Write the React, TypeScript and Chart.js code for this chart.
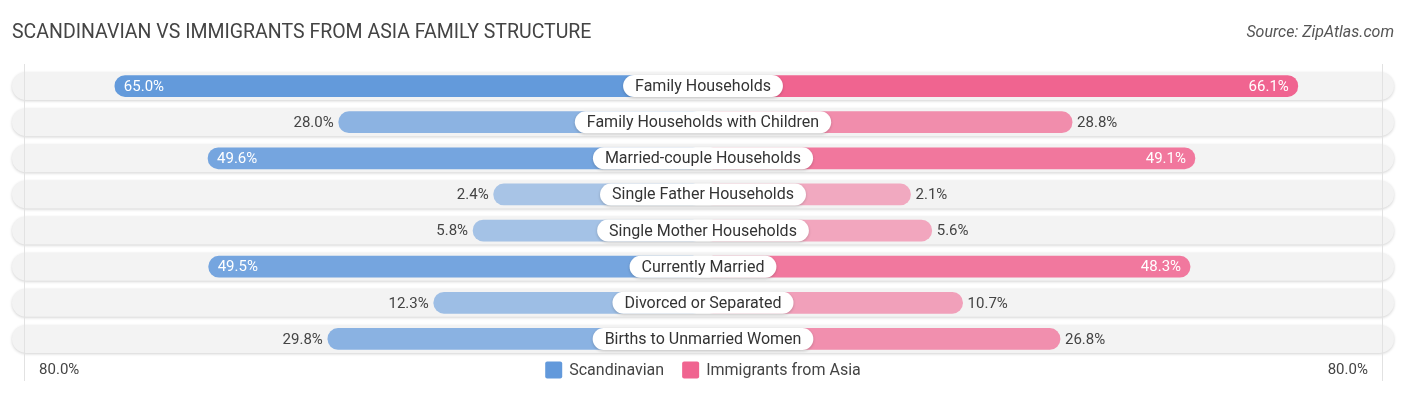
import React, { useEffect, useRef } from "react";
import { Chart, registerables } from "chart.js";

Chart.register(...registerables);

const categories = [
  "Family Households",
  "Family Households with Children",
  "Married-couple Households",
  "Single Father Households",
  "Single Mother Households",
  "Currently Married",
  "Divorced or Separated",
  "Births to Unmarried Women",
];
const scandinavian = [65.0, 28.0, 49.6, 2.4, 5.8, 49.5, 12.3, 29.8];
const immigrantsAsia = [66.1, 28.8, 49.1, 2.1, 5.6, 48.3, 10.7, 26.8];
const seriesNames = ["Scandinavian", "Immigrants from Asia"];
const axisMaxLabel = "80.0%";
const titleText = "SCANDINAVIAN VS IMMIGRANTS FROM ASIA FAMILY STRUCTURE";
const sourceText = "Source: ZipAtlas.com";

const AXIS_MAX = 80;
const OFFSET = 32.2; // room reserved under the centre label
const EDGE = AXIS_MAX + OFFSET + 2;
const FONT = "Roboto, 'Noto Sans', sans-serif";

const BLUE = [98, 153, 219];
const PINK = [240, 100, 144];

function colorFor(rgb: number[], v: number) {
  const a = 0.5 + 0.5 * Math.min(1, v / 66);
  return `rgba(${rgb[0]},${rgb[1]},${rgb[2]},${a.toFixed(3)})`;
}

function roundRect(ctx: CanvasRenderingContext2D, x: number, y: number, w: number, h: number, r: number) {
  ctx.beginPath();
  ctx.moveTo(x + r, y);
  ctx.lineTo(x + w - r, y);
  ctx.arc(x + w - r, y + r, r, -Math.PI / 2, 0, false);
  ctx.lineTo(x + w, y + h - r);
  ctx.arc(x + w - r, y + h - r, r, 0, Math.PI / 2, false);
  ctx.lineTo(x + r, y + h);
  ctx.arc(x + r, y + h - r, r, Math.PI / 2, Math.PI, false);
  ctx.lineTo(x, y + r);
  ctx.arc(x + r, y + r, r, Math.PI, Math.PI * 1.5, false);
  ctx.closePath();
}

const decorPlugin = {
  id: "decor",
  beforeDatasetsDraw(chart: any) {
    const ctx = chart.ctx as CanvasRenderingContext2D;
    const xs = chart.scales.x;
    const ys = chart.scales.y;
    const left = xs.getPixelForValue(-EDGE);
    const right = xs.getPixelForValue(EDGE);
    // pills
    categories.forEach((_, i) => {
      const cy = ys.getPixelForValue(i);
      const h = 28;
      ctx.save();
      ctx.shadowColor = "rgba(0,0,0,0.18)";
      ctx.shadowBlur = 3;
      ctx.shadowOffsetY = 1;
      roundRect(ctx, left, cy - h / 2, right - left, h, h / 2);
      ctx.fillStyle = "#f3f3f3";
      ctx.fill();
      ctx.restore();
    });
    // faint vertical guide lines at 80%
    ctx.save();
    ctx.strokeStyle = "#e2e2e2";
    ctx.lineWidth = 1;
    for (const v of [-(AXIS_MAX + OFFSET), AXIS_MAX + OFFSET]) {
      const px = Math.round(xs.getPixelForValue(v)) + 0.5;
      ctx.beginPath();
      ctx.moveTo(px, chart.chartArea.top - 4);
      ctx.lineTo(px, chart.chartArea.bottom + 24);
      ctx.stroke();
    }
    ctx.restore();
  },
  afterDatasetsDraw(chart: any) {
    const ctx = chart.ctx as CanvasRenderingContext2D;
    const xs = chart.scales.x;
    const ys = chart.scales.y;
    const cx = xs.getPixelForValue(0);
    categories.forEach((cat, i) => {
      const cy = ys.getPixelForValue(i);
      // centre label
      ctx.save();
      ctx.font = `16px ${FONT}`;
      const tw = ctx.measureText(cat).width;
      const bw = tw + 24;
      const bh = 22;
      ctx.shadowColor = "rgba(0,0,0,0.2)";
      ctx.shadowBlur = 3;
      ctx.shadowOffsetY = 1;
      roundRect(ctx, cx - bw / 2, cy - bh / 2, bw, bh, bh / 2);
      ctx.fillStyle = "#ffffff";
      ctx.fill();
      ctx.restore();
      ctx.save();
      ctx.font = `16px ${FONT}`;
      ctx.fillStyle = "#333333";
      ctx.textAlign = "center";
      ctx.textBaseline = "middle";
      ctx.fillText(cat, cx, cy + 1);
      ctx.restore();

      // value labels
      ctx.save();
      ctx.font = `15px ${FONT}`;
      ctx.textBaseline = "middle";
      const lv = scandinavian[i];
      const lx = xs.getPixelForValue(-(OFFSET + lv));
      if (lv > 40) {
        ctx.fillStyle = "#ffffff";
        ctx.textAlign = "left";
        ctx.fillText(lv.toFixed(1) + "%", lx + 9, cy + 1);
      } else {
        ctx.fillStyle = "#444444";
        ctx.textAlign = "right";
        ctx.fillText(lv.toFixed(1) + "%", lx - 5, cy + 1);
      }
      const rv = immigrantsAsia[i];
      const rx = xs.getPixelForValue(OFFSET + rv);
      if (rv > 40) {
        ctx.fillStyle = "#ffffff";
        ctx.textAlign = "right";
        ctx.fillText(rv.toFixed(1) + "%", rx - 9, cy + 1);
      } else {
        ctx.fillStyle = "#444444";
        ctx.textAlign = "left";
        ctx.fillText(rv.toFixed(1) + "%", rx + 5, cy + 1);
      }
      ctx.restore();
    });

    // title & source
    ctx.save();
    ctx.font = `19.5px ${FONT}`;
    ctx.fillStyle = "#444444";
    ctx.textBaseline = "middle";
    ctx.textAlign = "left";
    ctx.fillText(titleText, 12, 33);
    ctx.font = `italic 16px ${FONT}`;
    ctx.fillStyle = "#555555";
    ctx.textAlign = "right";
    ctx.fillText(sourceText, 1394, 33);
    ctx.restore();

    // axis labels
    const by = chart.chartArea.bottom + 13;
    ctx.save();
    ctx.font = `15px ${FONT}`;
    ctx.fillStyle = "#444444";
    ctx.textBaseline = "middle";
    ctx.textAlign = "left";
    ctx.fillText(axisMaxLabel, xs.getPixelForValue(-(AXIS_MAX + OFFSET)) + 15, by);
    ctx.textAlign = "right";
    ctx.fillText(axisMaxLabel, xs.getPixelForValue(AXIS_MAX + OFFSET) - 14, by);

    // legend
    ctx.font = `16px ${FONT}`;
    const sq = 17;
    const gap = 7;
    const spacing = 18;
    const w1 = ctx.measureText(seriesNames[0]).width;
    const w2 = ctx.measureText(seriesNames[1]).width;
    const total = sq + gap + w1 + spacing + sq + gap + w2;
    let x = cx - total / 2;
    const items = [
      { name: seriesNames[0], color: `rgb(${BLUE.join(",")})`, w: w1 },
      { name: seriesNames[1], color: `rgb(${PINK.join(",")})`, w: w2 },
    ];
    items.forEach((it) => {
      ctx.fillStyle = it.color;
      roundRect(ctx, x, by - sq / 2, sq, sq, 2);
      ctx.fill();
      ctx.fillStyle = "#444444";
      ctx.textAlign = "left";
      ctx.fillText(it.name, x + sq + gap, by + 1);
      x += sq + gap + it.w + spacing;
    });
    ctx.restore();
  },
};

export default function App() {
  const ref = useRef<HTMLCanvasElement | null>(null);
  useEffect(() => {
    document.body.style.margin = "0";
    const canvas = ref.current!;
    const chart = new Chart(canvas, {
      type: "bar",
      data: {
        labels: categories,
        datasets: [
          {
            label: seriesNames[0],
            data: scandinavian.map((v) => [-(OFFSET + v), 0]) as any,
            backgroundColor: scandinavian.map((v) => colorFor(BLUE, v)),
            borderSkipped: false,
            borderRadius: 11,
            barThickness: 21,
            grouped: false,
          } as any,
          {
            label: seriesNames[1],
            data: immigrantsAsia.map((v) => [0, OFFSET + v]) as any,
            backgroundColor: immigrantsAsia.map((v) => colorFor(PINK, v)),
            borderSkipped: false,
            borderRadius: 11,
            barThickness: 21,
            grouped: false,
          } as any,
        ],
      },
      options: {
        indexAxis: "y",
        responsive: false,
        animation: false,
        devicePixelRatio: 1,
        layout: { padding: { left: 12, right: 12, top: 68, bottom: 38 } },
        scales: {
          x: { type: "linear", min: -EDGE, max: EDGE, display: false },
          y: { type: "category", display: false, offset: true },
        },
        plugins: {
          legend: { display: false },
          title: { display: false },
          tooltip: { enabled: false },
        },
      },
      plugins: [decorPlugin],
    });
    return () => chart.destroy();
  }, []);
  return (
    <div style={{ width: 1406, height: 395 }}>
      <canvas ref={ref} width={1406} height={395} style={{ display: "block" }} />
    </div>
  );
}
